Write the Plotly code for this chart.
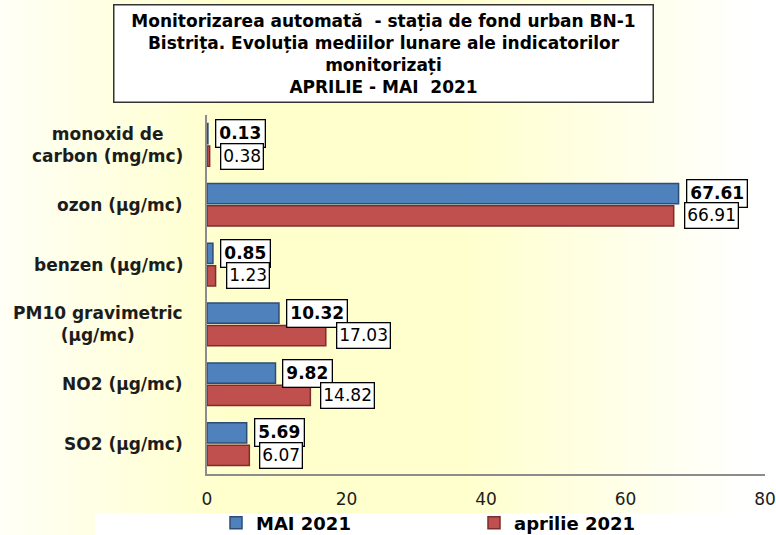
import base64
import plotly.graph_objects as go

# ---------------- data ----------------
categories = [
    "SO2 (µg/mc)",
    "NO2 (µg/mc)",
    "PM10 gravimetric<br>(µg/mc)",
    "benzen (µg/mc)",
    "ozon (µg/mc)",
    "monoxid de<br>carbon (mg/mc)",
]
mai_2021 = [5.69, 9.82, 10.32, 0.85, 67.61, 0.13]
aprilie_2021 = [6.07, 14.82, 17.03, 1.23, 66.91, 0.38]
x_ticks = [0, 20, 40, 60, 80]
title_lines = [
    "Monitorizarea automată  - stația de fond urban BN-1",
    "Bistrița. Evoluția mediilor lunare ale indicatorilor",
    "monitorizați",
    "APRILIE - MAI  2021",
]

# ---------------- layout constants ----------------
W, H = 776, 535
ML, MR, MT, MB = 207, 11, 115, 61
PW, PH = W - ML - MR, H - MT - MB
BARGAP, BARGROUPGAP = 0.25, 0.10
FONT = "DejaVu Sans, Arial, sans-serif"
TXT = "#1c1c1c"

cat_px = PH / len(categories)
slot = cat_px * (1 - BARGAP) / 2
offset = slot / 2

# gradient background as svg image
svg = f"""<svg xmlns='http://www.w3.org/2000/svg' width='{W}' height='{H}'>
<defs><linearGradient id='g' x1='0' x2='1' y1='0' y2='0'>
<stop offset='0' stop-color='#FFFFF6'/>
<stop offset='0.30' stop-color='#FFFFCC'/>
<stop offset='0.60' stop-color='#FFFFCE'/>
<stop offset='0.97' stop-color='#FFFFFF'/>
</linearGradient></defs>
<rect width='{W}' height='{H}' fill='url(#g)'/>
<rect x='95' y='513' width='{W-95}' height='{H-513}' fill='#FFFFFF'/>
</svg>"""
svg_uri = "data:image/svg+xml;base64," + base64.b64encode(svg.encode()).decode()

fig = go.Figure()
fig.add_trace(go.Bar(
    y=categories, x=aprilie_2021, orientation="h", name="aprilie 2021",
    marker=dict(color="#C0504D", line=dict(color="#7A2E2C", width=1.5)),
    legendrank=2, hoverinfo="x+y",
))
fig.add_trace(go.Bar(
    y=categories, x=mai_2021, orientation="h", name="MAI 2021",
    marker=dict(color="#4F81BD", line=dict(color="#2C4D75", width=1.5)),
    legendrank=1, hoverinfo="x+y",
))

annotations = []
for cat, vm, va in zip(categories, mai_2021, aprilie_2021):
    annotations.append(dict(
        x=vm, y=cat, xref="x", yref="y", xanchor="left", yanchor="middle",
        xshift=7, yshift=offset, showarrow=False,
        text=f"<b>{vm:.2f}</b>", font=dict(family=FONT, size=17, color="#000"),
        bgcolor="#FFFFFF", bordercolor="#000", borderwidth=1.3, borderpad=3,
    ))
    annotations.append(dict(
        x=va, y=cat, xref="x", yref="y", xanchor="left", yanchor="middle",
        xshift=10, yshift=-offset, showarrow=False,
        text=f"{va:.2f}", font=dict(family=FONT, size=17, color="#000"),
        bgcolor="#FFFFFF", bordercolor="#000", borderwidth=1.3, borderpad=2,
    ))
    annotations.append(dict(
        x=0, y=cat, xref="x", yref="y", xanchor="right", yanchor="middle",
        xshift=-22, showarrow=False, align="center",
        text=f"<b>{cat}</b>", font=dict(family=FONT, size=17, color=TXT),
    ))

annotations.append(dict(
    x=(383 - ML) / PW, y=1 + (MT - 4) / PH, xref="paper", yref="paper",
    xanchor="center", yanchor="top", showarrow=False, align="center",
    text="<b>" + "<br>".join(title_lines) + "</b>",
    font=dict(family=FONT, size=17, color="#000"),
    bgcolor="#FFFFFF", bordercolor="#333", borderwidth=1.5, borderpad=5,
    width=528,
))

fig.update_layout(
    width=W, height=H,
    margin=dict(l=ML, r=MR, t=MT, b=MB, pad=0, autoexpand=False),
    paper_bgcolor="#FFFFFF", plot_bgcolor="rgba(0,0,0,0)",
    barmode="group", bargap=BARGAP, bargroupgap=BARGROUPGAP,
    font=dict(family=FONT, color=TXT),
    images=[dict(
        source=svg_uri, xref="paper", yref="paper",
        x=-ML / PW, y=1 + MT / PH, sizex=W / PW, sizey=H / PH,
        xanchor="left", yanchor="top", sizing="stretch", layer="below",
    )],
    xaxis=dict(
        range=[0, 80], tickvals=x_ticks, showgrid=False, zeroline=False,
        showline=True, linecolor="#8C8C8C", linewidth=2, ticks="",
        tickfont=dict(family=FONT, size=17, color=TXT), ticklabelstandoff=9,
        fixedrange=True, automargin=False,
    ),
    yaxis=dict(
        categoryorder="array", categoryarray=categories,
        range=[-0.5, len(categories) - 0.5],
        showgrid=False, zeroline=False, showline=True, linecolor="#8C8C8C",
        linewidth=2, showticklabels=False, ticks="", fixedrange=True,
        automargin=False,
    ),
    legend=dict(
        orientation="h", xref="container", yref="container",
        x=216 / W, y=1 - 523 / H, xanchor="left", yanchor="middle",
        entrywidth=213, entrywidthmode="pixels",
        font=dict(family=FONT, size=18, color="#000", weight="bold"),
        bgcolor="rgba(0,0,0,0)", itemclick=False, itemdoubleclick=False,
    ),
    showlegend=True,
    annotations=annotations,
)

fig.write_html(
    "out.html",
    config={"displayModeBar": False},
    post_script="document.body.style.margin='0';document.body.style.overflow='hidden';",
)
